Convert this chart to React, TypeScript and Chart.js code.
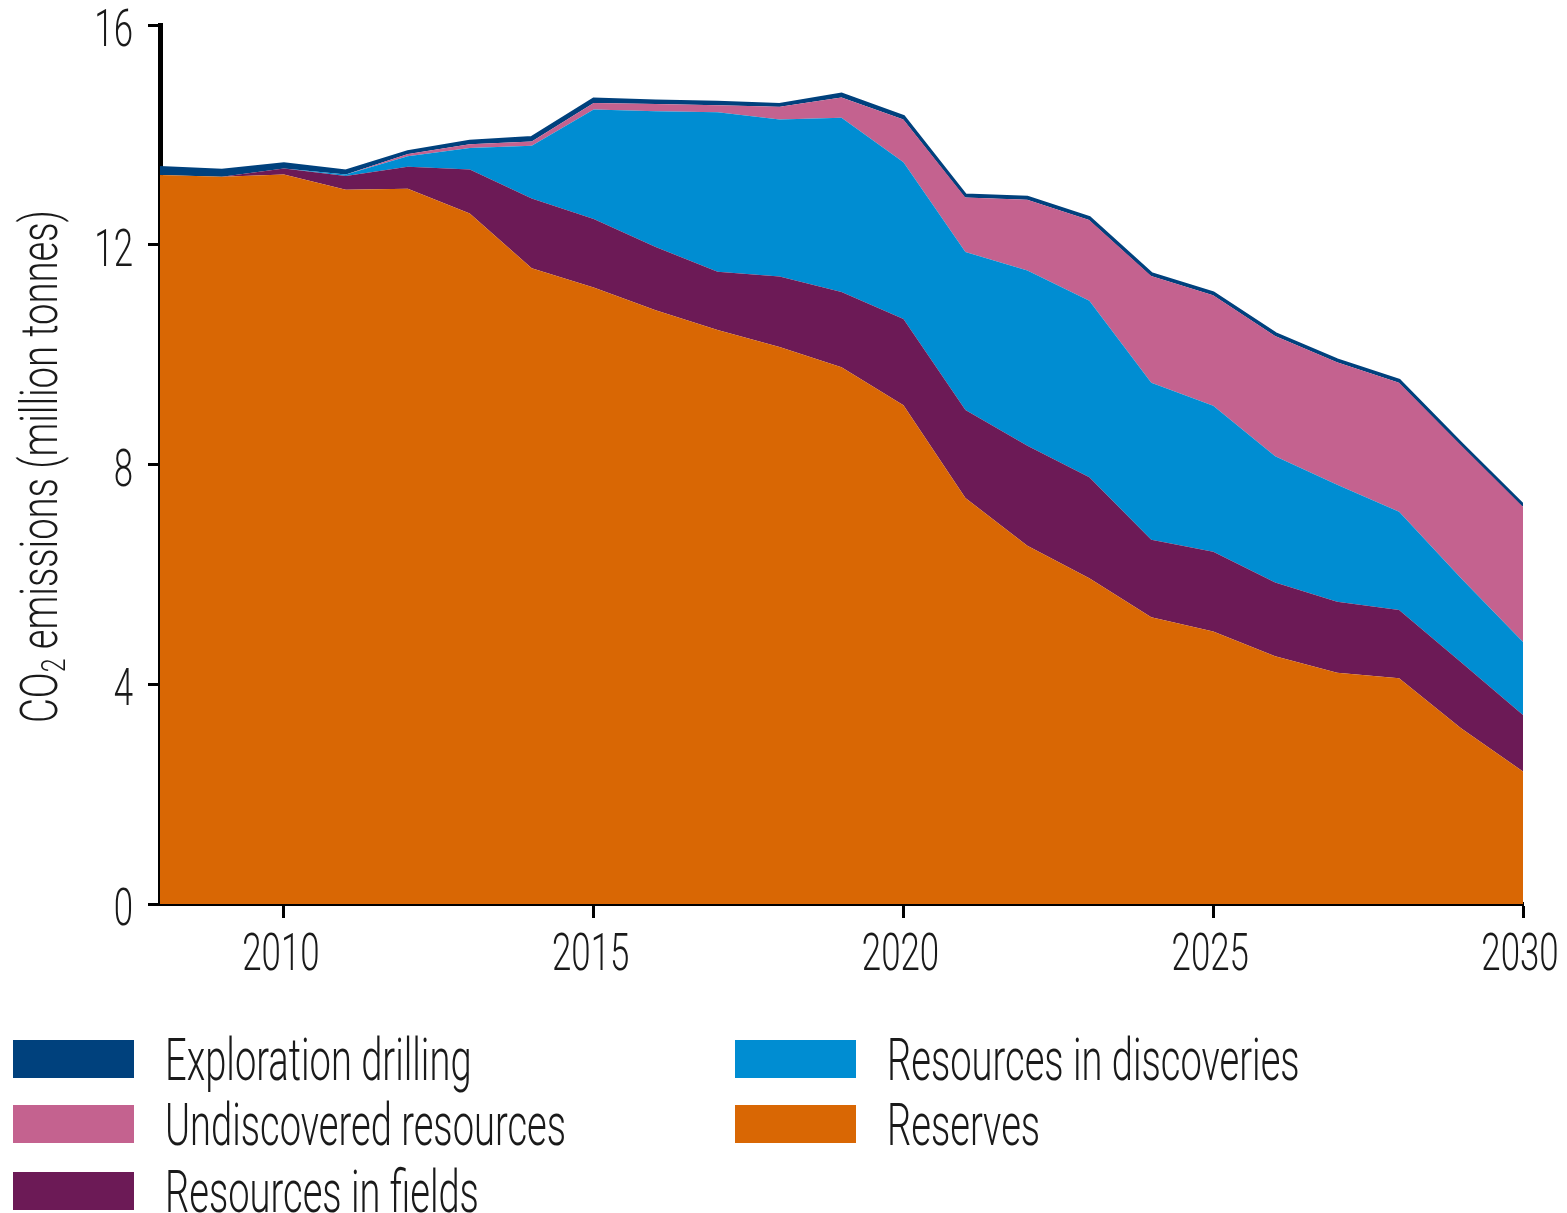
import { useEffect, useRef } from 'react';
import { Chart, registerables } from 'chart.js';

Chart.register(...registerables);

const years = [2008, 2009, 2010, 2011, 2012, 2013, 2014, 2015, 2016, 2017, 2018, 2019, 2020, 2021, 2022, 2023, 2024, 2025, 2026, 2027, 2028, 2029, 2030];

const reserves = [13.27, 13.24, 13.28, 13.0, 13.02, 12.57, 11.57, 11.22, 10.81, 10.45, 10.14, 9.77, 9.08, 7.39, 6.52, 5.93, 5.22, 4.96, 4.51, 4.21, 4.11, 3.2, 2.41];
const resourcesInFields = [0.0, 0.0, 0.11, 0.25, 0.4, 0.8, 1.27, 1.25, 1.15, 1.06, 1.28, 1.37, 1.57, 1.6, 1.82, 1.84, 1.41, 1.45, 1.34, 1.29, 1.24, 1.2, 1.03];
const resourcesInDiscoveries = [0, 0, 0, 0.03, 0.19, 0.39, 0.96, 1.99, 2.47, 2.9, 2.86, 3.17, 2.85, 2.88, 3.19, 3.21, 2.86, 2.66, 2.3, 2.13, 1.79, 1.53, 1.33];
const undiscoveredResources = [0, 0, 0, 0, 0.04, 0.07, 0.08, 0.12, 0.13, 0.13, 0.23, 0.37, 0.78, 0.99, 1.29, 1.47, 1.94, 2.01, 2.19, 2.23, 2.35, 2.42, 2.46];
const explorationDrilling = [0.13, 0.11, 0.08, 0.06, 0.04, 0.05, 0.07, 0.07, 0.05, 0.05, 0.04, 0.06, 0.05, 0.04, 0.04, 0.04, 0.04, 0.04, 0.04, 0.04, 0.04, 0.03, 0.03];

const yTicks = [0, 4, 8, 12, 16];
const xTicks = [2010, 2015, 2020, 2025, 2030];

const TITLE_MAIN = 'CO';
const TITLE_SUB = '2';
const TITLE_REST = ' emissions (million tonnes)';

const COLORS = {
  reserves: '#D96704',
  fields: '#6C1A56',
  discoveries: '#008DD2',
  undiscovered: '#C4628F',
  exploration: '#00417D',
};

const FONT = "Roboto, 'Liberation Sans', sans-serif";
const TEXT = '#1a1a1a';

// legend layout: [label, column, row]
const legendOrder = [
  ['Exploration drilling', 0, 0],
  ['Undiscovered resources', 0, 1],
  ['Resources in fields', 0, 2],
  ['Resources in discoveries', 1, 0],
  ['Reserves', 1, 1],
] as const;

function drawScaled(ctx: CanvasRenderingContext2D, text: string, x: number, y: number, align: CanvasTextAlign, sx: number) {
  ctx.save();
  ctx.translate(x, y);
  ctx.scale(sx, 1);
  ctx.textAlign = align;
  ctx.textBaseline = 'alphabetic';
  ctx.fillText(text, 0, 0);
  ctx.restore();
}

const textPlugin = {
  id: 'condensedText',
  afterDraw(chart: any) {
    const ctx: CanvasRenderingContext2D = chart.ctx;
    const xs = chart.scales.x;
    const ys = chart.scales.y;
    const area = chart.chartArea;
    ctx.save();
    ctx.fillStyle = TEXT;
    const tickFont = `300 52px ${FONT}`;
    const sx = 0.67;
    ctx.font = tickFont;
    for (const v of yTicks) {
      const py = ys.getPixelForValue(v);
      drawScaled(ctx, String(v), area.left - 27, py + 21, 'right', sx);
    }
    for (const v of xTicks) {
      const px = xs.getPixelForValue(v);
      drawScaled(ctx, String(v), px - 3, area.bottom + 66, 'center', sx);
    }
    const mainFont = `300 52px ${FONT}`;
    const subFont = `300 34px ${FONT}`;
    ctx.font = mainFont;
    const w1 = ctx.measureText(TITLE_MAIN).width;
    const w3 = ctx.measureText(TITLE_REST).width;
    ctx.font = subFont;
    const w2 = ctx.measureText(TITLE_SUB).width;
    const raw = w1 + w2 + w3;
    const tsx = 513 / raw;
    const cy = (area.top + area.bottom) / 2 + 2;
    ctx.save();
    ctx.translate(57, cy);
    ctx.rotate(-Math.PI / 2);
    ctx.scale(tsx, 1);
    ctx.textAlign = 'left';
    ctx.textBaseline = 'alphabetic';
    let cx = -raw / 2;
    ctx.font = mainFont;
    ctx.fillText(TITLE_MAIN, cx, 0);
    cx += w1;
    ctx.font = subFont;
    ctx.fillText(TITLE_SUB, cx, 8);
    cx += w2;
    ctx.font = mainFont;
    ctx.fillText(TITLE_REST, cx, 0);
    ctx.restore();

    const legendFont = `300 60px ${FONT}`;
    ctx.font = legendFont;
    const lsx = 0.635;
    const colBox = [13, 735];
    const rowTop = [1040, 1105, 1172];
    for (const [label, col, row] of legendOrder) {
      const ds = chart.data.datasets.find((d: any) => d.label === label);
      if (!ds) continue;
      ctx.fillStyle = ds.backgroundColor;
      ctx.fillRect(colBox[col], rowTop[row], 121, 38);
      ctx.fillStyle = TEXT;
      drawScaled(ctx, label, colBox[col] + 152, rowTop[row] + 40, 'left', lsx);
    }
    ctx.restore();
  },
};

export default function App() {
  const canvasRef = useRef<HTMLCanvasElement | null>(null);

  useEffect(() => {
    const canvas = canvasRef.current;
    if (!canvas) return;
    const mk = (vals: number[]) => years.map((x, i) => ({ x, y: vals[i] }));
    const series = [
      { label: 'Reserves', data: reserves, color: COLORS.reserves },
      { label: 'Resources in fields', data: resourcesInFields, color: COLORS.fields },
      { label: 'Resources in discoveries', data: resourcesInDiscoveries, color: COLORS.discoveries },
      { label: 'Undiscovered resources', data: undiscoveredResources, color: COLORS.undiscovered },
      { label: 'Exploration drilling', data: explorationDrilling, color: COLORS.exploration },
    ];
    const chart = new Chart(canvas, {
      type: 'line',
      data: {
        datasets: series.map((s, i) => ({
          label: s.label,
          data: mk(s.data),
          backgroundColor: s.color,
          borderColor: i === series.length - 1 ? COLORS.exploration : s.color,
          borderWidth: i === series.length - 1 ? 3.5 : 0,
          fill: i === 0 ? 'origin' : '-1',
          pointRadius: 0,
          tension: 0,
        })),
      },
      options: {
        animation: false,
        responsive: false,
        devicePixelRatio: 1,
        layout: { padding: { top: 25, right: 44, left: 0, bottom: 213 } },
        plugins: { legend: { display: false }, tooltip: { enabled: false } },
        scales: {
          x: {
            type: 'linear',
            min: 2008,
            max: 2030,
            afterBuildTicks: (scale: any) => {
              scale.ticks = xTicks.map((v) => ({ value: v }));
            },
            afterFit: (scale: any) => {
              scale.height = 96;
            },
            ticks: { display: false },
            grid: {
              display: true,
              drawOnChartArea: false,
              drawTicks: true,
              tickLength: 14,
              tickWidth: 3,
              tickColor: '#000',
            },
            border: { display: true, color: '#000', width: 4 },
          },
          y: {
            stacked: true,
            min: 0,
            max: 16,
            afterBuildTicks: (scale: any) => {
              scale.ticks = yTicks.map((v) => ({ value: v }));
            },
            afterFit: (scale: any) => {
              scale.width = 160;
            },
            ticks: { display: false },
            grid: {
              display: true,
              drawOnChartArea: false,
              drawTicks: true,
              tickLength: 12,
              tickWidth: 3,
              tickColor: '#000',
            },
            border: { display: true, color: '#000', width: 5 },
            title: { display: false },
          },
        },
      },
      plugins: [textPlugin],
    } as any);
    return () => chart.destroy();
  }, []);

  return (
    <div style={{ position: 'fixed', left: 0, top: 0, width: 1567, height: 1213, background: '#fff', overflow: 'hidden' }}>
      <canvas ref={canvasRef} width={1567} height={1213} style={{ position: 'absolute', left: 0, top: 0, width: 1567, height: 1213 }} />
    </div>
  );
}
